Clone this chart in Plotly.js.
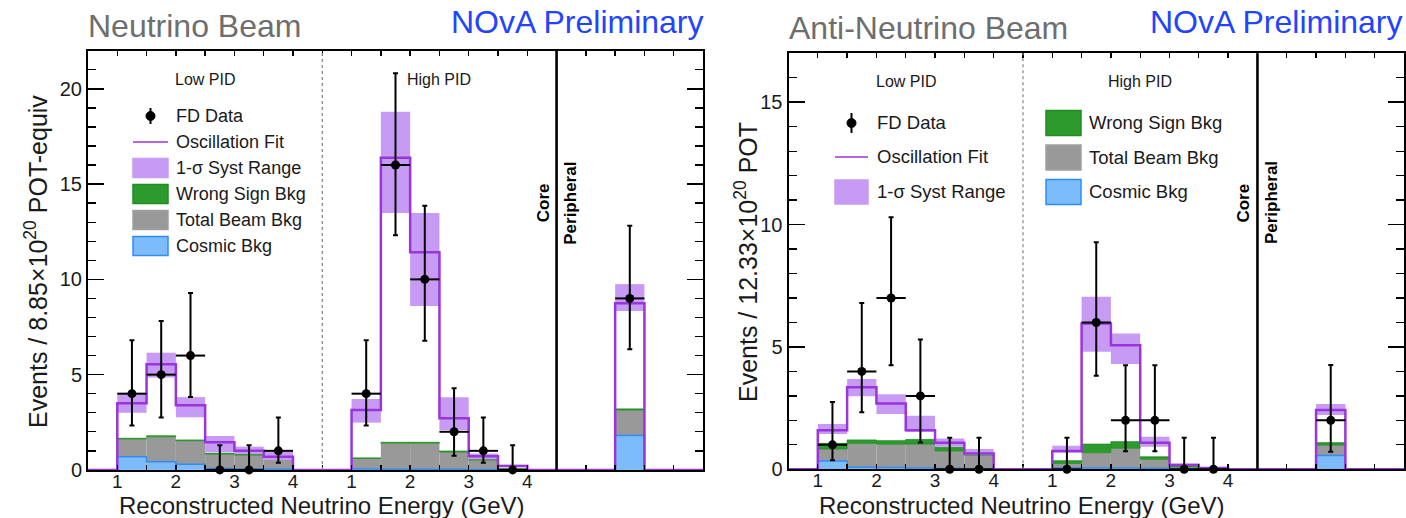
<!DOCTYPE html>
<html>
<head>
<meta charset="utf-8">
<script src="https://cdn.plot.ly/plotly-3.0.1.min.js"></script>
<style>
  html, body { margin: 0; padding: 0; background: #ffffff; }
  #chart { width: 1406px; height: 518px; }
</style>
</head>
<body>
<div id="chart"></div>
<script>
// ---------- bin layout ----------
// Low PID bins sit at their energy; High PID bins are shifted by 4 on the shared axis;
// the single peripheral bin follows the solid separator.
const lowPidCenters = [1.25, 1.75, 2.25, 2.75, 3.25, 3.75];
const highPidOffset = 4;
const peripheralCenters = [9.75];
const binWidth = 0.5;
const tickLabelsLow = ['1', '2', '3', '4'];
const tickLabelsHigh = ['1', '2', '3', '4'];

// ---------- Neutrino beam ----------
const nuLowFit      = [3.50, 5.55, 3.39, 1.45, 1.01, 0.69];
const nuLowSystLo   = [3.00, 4.85, 2.76, 0.92, 0.83, 0.52];
const nuLowSystHi   = [4.02, 6.15, 3.82, 1.78, 1.22, 0.96];
const nuLowCosmic   = [0.69, 0.43, 0.29, 0.08, 0.05, 0.04];
const nuLowBeamTop  = [1.62, 1.74, 1.53, 0.83, 0.78, 0.65];
const nuLowWSTop    = [1.66, 1.79, 1.57, 0.87, 0.81, 0.67];
const nuLowData     = [4, 5, 6, 0, 0, 1];
const nuLowDataUp   = [6.80, 7.81, 9.28, 1.29, 1.29, 2.75];
const nuLowDataDn   = [2.33, 2.75, 3.82, 0, 0, 0.37];

const nuHighFit     = [3.14, 16.38, 11.42, 2.71, 0.72, 0.20];
const nuHighSystLo  = [2.48, 13.48, 8.60, 2.09, 0.56, 0.15];
const nuHighSystHi  = [3.72, 18.79, 13.48, 3.81, 0.86, 0.27];
const nuHighCosmic  = [0.05, 0.04, 0.04, 0.03, 0.02, 0.01];
const nuHighBeamTop = [0.60, 1.40, 1.40, 0.94, 0.52, 0.05];
const nuHighWSTop   = [0.63, 1.45, 1.45, 0.99, 0.54, 0.06];
const nuHighData    = [4, 16, 10, 2, 1, 0];
const nuHighDataUp  = [6.80, 20.81, 13.86, 4.28, 2.75, 1.29];
const nuHighDataDn  = [2.33, 12.32, 6.78, 0.74, 0.37, 0];

const nuPerFit      = [8.75];
const nuPerSystLo   = [8.34];
const nuPerSystHi   = [9.75];
const nuPerCosmic   = [1.80];
const nuPerBeamTop  = [3.14];
const nuPerWSTop    = [3.20];
const nuPerData     = [9];
const nuPerDataUp   = [12.81];
const nuPerDataDn   = [6.33];

// ---------- Anti-neutrino beam ----------
const anuLowFit     = [1.60, 3.35, 2.69, 1.60, 1.09, 0.65];
const anuLowSystLo  = [1.44, 2.99, 2.26, 1.53, 0.92, 0.58];
const anuLowSystHi  = [1.85, 3.69, 3.07, 2.19, 1.26, 0.83];
const anuLowCosmic  = [0.34, 0.08, 0.07, 0.05, 0.03, 0.02];
const anuLowBeamTop = [0.83, 1.06, 1.03, 1.03, 0.75, 0.58];
const anuLowWSTop   = [1.06, 1.20, 1.17, 1.22, 0.90, 0.62];
const anuLowData    = [1, 4, 7, 3, 0, 0];
const anuLowDataUp  = [2.75, 6.80, 10.30, 5.30, 1.29, 1.29];
const anuLowDataDn  = [0.37, 2.33, 4.25, 1.10, 0, 0];

const anuHighFit     = [0.75, 5.96, 5.07, 1.09, 0.18, 0.05];
const anuHighSystLo  = [0.68, 4.80, 4.30, 0.92, 0.14, 0.03];
const anuHighSystHi  = [0.96, 7.05, 5.55, 1.33, 0.24, 0.07];
const anuHighCosmic  = [0.05, 0.05, 0.05, 0.04, 0.02, 0.01];
const anuHighBeamTop = [0.24, 0.68, 0.86, 0.41, 0.10, 0.02];
const anuHighWSTop   = [0.35, 1.03, 1.13, 0.51, 0.12, 0.03];
const anuHighData    = [0, 6, 2, 2, 0, 0];
const anuHighDataUp  = [1.29, 9.28, 4.25, 4.25, 1.29, 1.29];
const anuHighDataDn  = [0, 3.82, 0.74, 0.74, 0, 0];

const anuPerFit     = [2.42];
const anuPerSystLo  = [2.22];
const anuPerSystHi  = [2.67];
const anuPerCosmic  = [0.56];
const anuPerBeamTop = [0.99];
const anuPerWSTop   = [1.09];
const anuPerData    = [2];
const anuPerDataUp  = [4.26];
const anuPerDataDn  = [0.72];

// ---------- styling ----------
const FONT = '"Liberation Sans", Arial, Helvetica, sans-serif';
const C = {
  syst: '#c79bf4',
  fit: '#9a34dc',
  ws: '#2c9a2c',
  wsLine: '#1f8f1f',
  beam: '#999999',
  cosmic: '#7dbcfa',
  cosmicLine: '#2f8df5',
  title: '#6e6e6e',
  nova: '#2244ff',
  text: '#1a1a1a'
};
const W = 1406, H = 518;
const px = x => x / W;
const py = y => 1 - y / H;

const X_MIN = 0.5, X_MAX = 11.0;

function concat(a, b, c) { return a.concat(b, c); }
const highCenters = lowPidCenters.map(c => c + highPidOffset);
const allCenters = concat(lowPidCenters, highCenters, peripheralCenters);

function stepLine(centers, vals) {
  const xs = [X_MIN], ys = [0];
  for (let i = 0; i < centers.length; i++) {
    const lo = centers[i] - binWidth / 2, hi = centers[i] + binWidth / 2;
    const last = xs[xs.length - 1];
    if (Math.abs(last - lo) > 1e-9) { xs.push(lo); ys.push(vals[i]); }
    else { ys[ys.length - 1] = vals[i]; }
    xs.push(hi); ys.push(0);
  }
  xs.push(X_MAX); ys.push(0);
  return { xs, ys };
}

function panelTraces(s, xa, ya) {
  const cosmic = concat(s.low.cosmic, s.high.cosmic, s.per.cosmic);
  const beamTop = concat(s.low.beamTop, s.high.beamTop, s.per.beamTop);
  const wsTop = concat(s.low.wsTop, s.high.wsTop, s.per.wsTop);
  const sLo = concat(s.low.systLo, s.high.systLo, s.per.systLo);
  const sHi = concat(s.low.systHi, s.high.systHi, s.per.systHi);
  const fit = concat(s.low.fit, s.high.fit, s.per.fit);
  const data = concat(s.low.data, s.high.data, s.per.data);
  const up = concat(s.low.up, s.high.up, s.per.up);
  const dn = concat(s.low.dn, s.high.dn, s.per.dn);
  const common = { xaxis: xa, yaxis: ya, showlegend: false, hoverinfo: 'skip' };
  const step = stepLine(allCenters, fit);
  const cosStep = stepLine(allCenters, cosmic);
  return [
    Object.assign({ type: 'bar', x: allCenters, y: cosmic, base: 0, width: binWidth,
      marker: { color: C.cosmic, line: { width: 0 } } }, common),
    Object.assign({ type: 'scatter', mode: 'lines', x: cosStep.xs, y: cosStep.ys,
      line: { shape: 'hv', color: C.cosmicLine, width: 1.5 } }, common),
    Object.assign({ type: 'bar', x: allCenters, y: beamTop.map((v, i) => v - cosmic[i]), base: cosmic, width: binWidth,
      marker: { color: C.beam, line: { width: 0 } } }, common),
    Object.assign({ type: 'bar', x: allCenters, y: wsTop.map((v, i) => v - beamTop[i]), base: beamTop, width: binWidth,
      marker: { color: C.ws, line: { width: 0.8, color: C.wsLine } } }, common),
    Object.assign({ type: 'bar', x: allCenters, y: sHi.map((v, i) => v - sLo[i]), base: sLo, width: binWidth,
      marker: { color: C.syst, line: { width: 0 } } }, common),
    Object.assign({ type: 'scatter', mode: 'lines', x: step.xs, y: step.ys,
      line: { shape: 'hv', color: C.fit, width: 2.5 } }, common),
    Object.assign({ type: 'scatter', mode: 'markers', x: allCenters, y: data,
      marker: { color: '#000', size: 9 },
      error_y: { type: 'data', symmetric: false, array: up.map((v, i) => v - data[i]),
        arrayminus: data.map((v, i) => v - dn[i]), color: '#000', thickness: 2, width: 2.5 },
      error_x: { type: 'constant', value: binWidth / 2, color: '#000', thickness: 2, width: 0 },
      cliponaxis: false }, common)
  ];
}

const nuSet = {
  low:  { fit: nuLowFit, systLo: nuLowSystLo, systHi: nuLowSystHi, cosmic: nuLowCosmic, beamTop: nuLowBeamTop, wsTop: nuLowWSTop, data: nuLowData, up: nuLowDataUp, dn: nuLowDataDn },
  high: { fit: nuHighFit, systLo: nuHighSystLo, systHi: nuHighSystHi, cosmic: nuHighCosmic, beamTop: nuHighBeamTop, wsTop: nuHighWSTop, data: nuHighData, up: nuHighDataUp, dn: nuHighDataDn },
  per:  { fit: nuPerFit, systLo: nuPerSystLo, systHi: nuPerSystHi, cosmic: nuPerCosmic, beamTop: nuPerBeamTop, wsTop: nuPerWSTop, data: nuPerData, up: nuPerDataUp, dn: nuPerDataDn }
};
const anuSet = {
  low:  { fit: anuLowFit, systLo: anuLowSystLo, systHi: anuLowSystHi, cosmic: anuLowCosmic, beamTop: anuLowBeamTop, wsTop: anuLowWSTop, data: anuLowData, up: anuLowDataUp, dn: anuLowDataDn },
  high: { fit: anuHighFit, systLo: anuHighSystLo, systHi: anuHighSystHi, cosmic: anuHighCosmic, beamTop: anuHighBeamTop, wsTop: anuHighWSTop, data: anuHighData, up: anuHighDataUp, dn: anuHighDataDn },
  per:  { fit: anuPerFit, systLo: anuPerSystLo, systHi: anuPerSystHi, cosmic: anuPerCosmic, beamTop: anuPerBeamTop, wsTop: anuPerWSTop, data: anuPerData, up: anuPerDataUp, dn: anuPerDataDn }
};

const traces = panelTraces(nuSet, 'x', 'y').concat(panelTraces(anuSet, 'x2', 'y2'));

// tick positions every half GeV, labels on the integer energies of each PID section
const tickVals = [], tickText = [];
for (let v = X_MIN; v <= X_MAX + 1e-9; v += 0.5) {
  tickVals.push(v);
  let t = ' ';
  if (Number.isInteger(v) && v >= 1 && v <= 4) t = tickLabelsLow[v - 1];
  if (Number.isInteger(v) && v >= 5 && v <= 8) t = tickLabelsHigh[v - 5];
  tickText.push(t);
}

function xAxis(domain, anchor) {
  return {
    domain, anchor, range: [X_MIN, X_MAX], showgrid: false, zeroline: false,
    showline: true, linecolor: '#000', linewidth: 2, mirror: 'ticks',
    ticks: 'inside', ticklen: 5, tickwidth: 1.3, tickcolor: '#000',
    tickmode: 'array', tickvals: tickVals, ticktext: tickText, ticklabelstandoff: -7,
    tickfont: { family: FONT, size: 19, color: C.text }, fixedrange: true
  };
}
function yAxis(domain, anchor, ymax) {
  return {
    domain, anchor, range: [0, ymax], showgrid: false, zeroline: false,
    showline: true, linecolor: '#000', linewidth: 2, mirror: 'ticks',
    ticks: 'inside', ticklen: 16, tickwidth: 1.5, tickcolor: '#000',
    tick0: 0, dtick: 5,
    minor: { ticks: 'inside', ticklen: 8, tickwidth: 1.3, tickcolor: '#000', dtick: 1, showgrid: false },
    tickfont: { family: FONT, size: 20, color: C.text }, fixedrange: true
  };
}

const shapes = [];
const annotations = [];

function separators(xref) {
  shapes.push({ type: 'line', xref, yref: xref.replace('x', 'y') + ' domain', x0: 4.5, x1: 4.5, y0: 0, y1: 1,
    line: { color: '#8a8a8a', width: 1.3, dash: 'dot' } });
  shapes.push({ type: 'line', xref, yref: xref.replace('x', 'y') + ' domain', x0: 8.5, x1: 8.5, y0: 0, y1: 1,
    line: { color: '#000', width: 2.6 } });
}
separators('x');
separators('x2');

function text(t, x, y, opts) {
  annotations.push(Object.assign({ text: t, x, y, xref: 'paper', yref: 'paper', showarrow: false,
    xanchor: 'left', yanchor: 'middle', font: { family: FONT, size: 18, color: C.text } }, opts || {}));
}

// titles
text('Neutrino Beam', px(86), py(26), { font: { family: FONT, size: 32, color: C.title } });
text('NOvA Preliminary', px(706), py(22), { xanchor: 'right', font: { family: FONT, size: 32, color: C.nova } });
text('Anti-Neutrino Beam', px(787), py(28), { font: { family: FONT, size: 32, color: C.title } });
text('NOvA Preliminary', px(1405), py(22), { xanchor: 'right', font: { family: FONT, size: 32, color: C.nova } });

// axis titles
text('Reconstructed Neutrino Energy (GeV)', px(117), py(505), { font: { family: FONT, size: 24, color: C.text } });
text('Reconstructed Neutrino Energy (GeV)', px(817), py(505), { font: { family: FONT, size: 24, color: C.text } });
text('Events / 8.85×10<sup>20</sup> POT-equiv', px(36), py(262), { xanchor: 'center', textangle: -90, font: { family: FONT, size: 25, color: C.text } });
text('Events / 12.33×10<sup>20</sup> POT', px(746), py(262), { xanchor: 'center', textangle: -90, font: { family: FONT, size: 25, color: C.text } });

// section labels
function sectionLabels(xref, yref, yLab, yRot) {
  const base = { xref, yref, showarrow: false, yanchor: 'middle', xanchor: 'center' };
  annotations.push(Object.assign({ text: 'Low PID', x: 2.5, y: yLab, font: { family: FONT, size: 16, color: C.text } }, base));
  annotations.push(Object.assign({ text: 'High PID', x: 6.5, y: yLab, font: { family: FONT, size: 16, color: C.text } }, base));
  annotations.push(Object.assign({ text: '<b>Core</b>', x: 8.27, y: yRot, textangle: -90, font: { family: FONT, size: 17, color: '#000' } }, base));
  annotations.push(Object.assign({ text: '<b>Peripheral</b>', x: 8.74, y: yRot, textangle: -90, font: { family: FONT, size: 17, color: '#000' } }, base));
}
sectionLabels('x', 'y', 20.5, 14.0);
sectionLabels('x2', 'y2', 15.85, 10.9);

// legend keys
function box(x0, x1, yc, h, fill, line) {
  shapes.push({ type: 'rect', xref: 'paper', yref: 'paper', x0: px(x0), x1: px(x1), y0: py(yc + h / 2), y1: py(yc - h / 2),
    fillcolor: fill, line: { color: line, width: 1.5 } });
}
function dataKey(xc, yc, half) {
  shapes.push({ type: 'line', xref: 'paper', yref: 'paper', x0: px(xc), x1: px(xc), y0: py(yc + half), y1: py(yc - half),
    line: { color: '#000', width: 2 } });
  shapes.push({ type: 'circle', xref: 'paper', yref: 'paper', x0: px(xc - 4.5), x1: px(xc + 4.5), y0: py(yc + 4.5), y1: py(yc - 4.5),
    fillcolor: '#000', line: { color: '#000', width: 1 } });
}
function lineKey(x0, x1, yc) {
  shapes.push({ type: 'line', xref: 'paper', yref: 'paper', x0: px(x0), x1: px(x1), y0: py(yc), y1: py(yc),
    line: { color: C.fit, width: 1.6 } });
}

// neutrino legend
{
  const x0 = 133, x1 = 168, tx = 174, ys = [116, 142, 168, 194, 220, 246];
  dataKey((x0 + x1) / 2, ys[0], 8);
  lineKey(x0, x1, ys[1]);
  box(x0, x1, ys[2], 19, C.syst, C.syst);
  box(x0, x1, ys[3], 19, C.ws, C.wsLine);
  box(x0, x1, ys[4], 19, C.beam, '#a0a0a0');
  box(x0, x1, ys[5], 19, C.cosmic, C.cosmicLine);
  const labels = ['FD Data', 'Oscillation Fit', '1-σ Syst Range', 'Wrong Sign Bkg', 'Total Beam Bkg', 'Cosmic Bkg'];
  labels.forEach((l, i) => text(l, px(tx), py(ys[i])));
}
// anti-neutrino legend
{
  const x0 = 835, x1 = 868, tx = 875, ys = [123, 157, 192];
  dataKey((x0 + x1) / 2, ys[0], 10);
  lineKey(x0, x1, ys[1]);
  box(x0, x1, ys[2], 24, C.syst, C.syst);
  ['FD Data', 'Oscillation Fit', '1-σ Syst Range'].forEach((l, i) =>
    text(l, px(tx), py(ys[i]), { font: { family: FONT, size: 18.5, color: C.text } }));
  const bx0 = 1046, bx1 = 1081, btx = 1087, bys = [123, 157.5, 192];
  box(bx0, bx1, bys[0], 25, C.ws, C.wsLine);
  box(bx0, bx1, bys[1], 25, C.beam, '#a0a0a0');
  box(bx0, bx1, bys[2], 25, C.cosmic, C.cosmicLine);
  ['Wrong Sign Bkg', 'Total Beam Bkg', 'Cosmic Bkg'].forEach((l, i) =>
    text(l, px(btx), py(bys[i]), { font: { family: FONT, size: 18.5, color: C.text } }));
}

const layout = {
  width: W, height: H,
  margin: { l: 0, r: 0, t: 0, b: 0 },
  paper_bgcolor: '#fff', plot_bgcolor: '#fff',
  barmode: 'overlay', showlegend: false,
  font: { family: FONT, color: C.text },
  xaxis: xAxis([px(88), px(703)], 'y'),
  yaxis: yAxis([1 - 469.9 / H, 1 - 50.7 / H], 'x', 22),
  xaxis2: xAxis([px(788.5), px(1404)], 'y2'),
  yaxis2: yAxis([1 - 469.3 / H, 1 - 53.3 / H], 'x2', 17),
  shapes, annotations
};

Plotly.newPlot('chart', traces, layout, { displayModeBar: false, staticPlot: true });
</script>
</body>
</html>
